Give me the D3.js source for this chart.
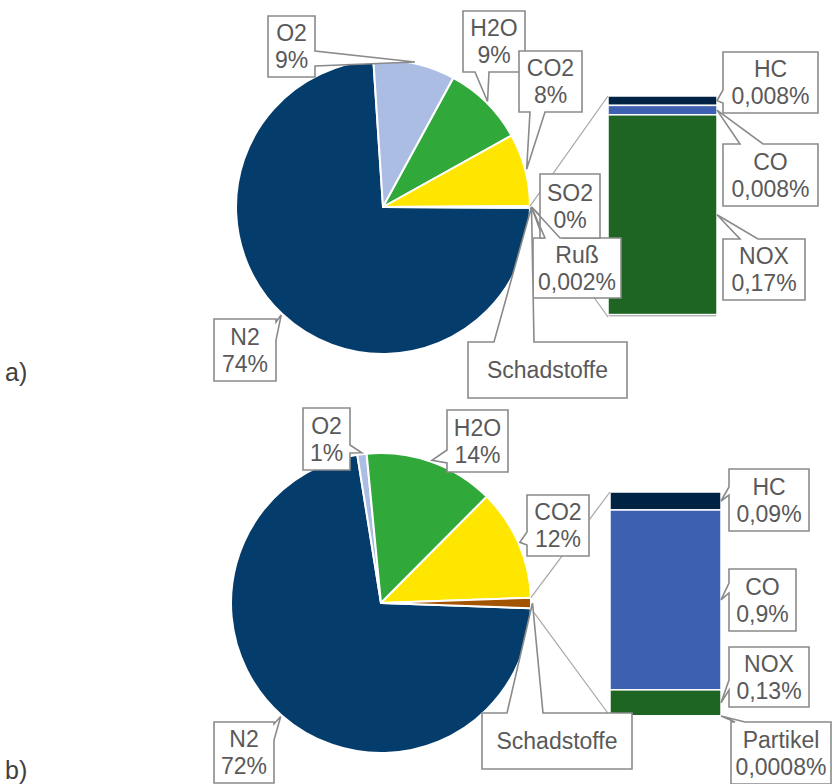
<!DOCTYPE html>
<html>
<head>
<meta charset="utf-8">
<script src="https://cdn.jsdelivr.net/npm/d3@7"></script>
<style>
  html, body { margin: 0; padding: 0; background: #ffffff; }
  svg { display: block; }
  text { font-family: "Liberation Sans", Arial, sans-serif; }
</style>
</head>
<body>
<svg id="chart" width="832" height="784"></svg>
<script>
// ---- data: a) ----
const pieLabelsA = ["N2", "O2", "H2O", "CO2"];
const pieValuesA = [74, 9, 9, 8];
const barLabelsA = ["HC", "CO", "NOX", "Ruß", "SO2"];
const barValuesA = [0.008, 0.008, 0.17, 0.002, 0];

// ---- data: b) ----
const pieLabelsB = ["N2", "O2", "H2O", "CO2"];
const pieValuesB = [72, 1, 14, 12];
const barLabelsB = ["HC", "CO", "NOX", "Partikel"];
const barValuesB = [0.09, 0.9, 0.13, 0.0008];

const otherLabel = "Schadstoffe";
const panelTags = ["a)", "b)"];

// ---- colours ----
const pieColors = { N2: "#043c6b", O2: "#abbde3", H2O: "#30a83a", CO2: "#ffe600", Schadstoffe: "#a35400" };
const barColors = { HC: "#002343", CO: "#3e60b1", NOX: "#1e6423", "Ruß": "#7f7f7f", Partikel: "#7f7f7f", SO2: "#7f7f7f" };

// ---- layout ----
const panels = [
  {
    tag: panelTags[0], tagY: 381,
    pieLabels: pieLabelsA, pieValues: pieValuesA, barLabels: barLabelsA, barValues: barValuesA,
    cx: 383, cy: 207, r: 147,
    bar: { x: 608, w: 109, top: 96, bottom: 317 },
    // callout boxes: [x0, y0, x1, y1], wedge edge, wedge base [from, to]
    pieCallouts: {
      N2:  { box: [214, 319, 276, 381], edge: "right", base: [322, 340] },
      O2:  { box: [268, 16, 315, 77], edge: "right", base: [51, 66] },
      H2O: { box: [463, 11, 525, 72], edge: "bottom", base: [475, 489] },
      CO2: { box: [519, 51, 582, 112], edge: "bottom", base: [530, 545] },
      Schadstoffe: { box: [468, 342, 627, 398], edge: "top", base: [494, 534] }
    },
    barCallouts: {
      HC:  { box: [723, 52, 818, 113], edge: "left", base: [90, 103] },
      CO:  { box: [723, 144, 818, 206], edge: "top", base: [740, 763] },
      NOX: { box: [723, 239, 805, 300], edge: "top", base: [740, 758] },
      SO2: { box: [540, 174, 600, 238], edge: "bottom", base: [545, 560], toPie: true },
      "Ruß": { box: [533, 238, 621, 298], edge: "top", base: [543, 563], toPie: true }
    }
  },
  {
    tag: panelTags[1], tagY: 779,
    pieLabels: pieLabelsB, pieValues: pieValuesB, barLabels: barLabelsB, barValues: barValuesB,
    cx: 381, cy: 603, r: 150,
    bar: { x: 610, w: 111, top: 492, bottom: 716 },
    pieCallouts: {
      N2:  { box: [214, 722, 274, 783], edge: "right", base: [724, 740] },
      O2:  { box: [303, 408, 350, 470], edge: "right", base: [445, 453] },
      H2O: { box: [447, 410, 508, 472], edge: "left", base: [450, 463] },
      CO2: { box: [527, 495, 589, 556], edge: "left", base: [532, 545] },
      Schadstoffe: { box: [482, 713, 632, 769], edge: "top", base: [507, 543] }
    },
    barCallouts: {
      HC:  { box: [729, 469, 809, 531], edge: "left", base: [487, 495] },
      CO:  { box: [729, 569, 796, 631], edge: "left", base: [583, 593] },
      NOX: { box: [729, 647, 809, 707], edge: "left", base: [680, 690] },
      Partikel: { box: [731, 722, 831, 784], edge: "top", base: [735, 745] }
    }
  }
];

const textColor = "#595959";
const boxStroke = "#8a8a8a";
const leaderStroke = "#a6a6a6";
const fontSize = 23;
const tagFontSize = 25;
const lineGap = 26.6;

const svg = d3.select("#chart");

const fmtPct = v => String(v).replace(".", ",") + "%";

// Callout outline: rectangle with a pointer wedge to the tip
function calloutPath(c, tip) {
  const [x0, y0, x1, y1] = c.box;
  const [b0, b1] = c.base;
  const p = d3.path();
  if (c.edge === "right") {
    p.moveTo(x0, y0); p.lineTo(x1, y0); p.lineTo(x1, b0); p.lineTo(tip[0], tip[1]);
    p.lineTo(x1, b1); p.lineTo(x1, y1); p.lineTo(x0, y1);
  } else if (c.edge === "left") {
    p.moveTo(x0, y0); p.lineTo(x1, y0); p.lineTo(x1, y1); p.lineTo(x0, y1);
    p.lineTo(x0, b1); p.lineTo(tip[0], tip[1]); p.lineTo(x0, b0);
  } else if (c.edge === "top") {
    p.moveTo(x0, y0); p.lineTo(b0, y0); p.lineTo(tip[0], tip[1]); p.lineTo(b1, y0);
    p.lineTo(x1, y0); p.lineTo(x1, y1); p.lineTo(x0, y1);
  } else {
    p.moveTo(x0, y0); p.lineTo(x1, y0); p.lineTo(x1, y1); p.lineTo(b1, y1);
    p.lineTo(tip[0], tip[1]); p.lineTo(b0, y1); p.lineTo(x0, y1);
  }
  p.closePath();
  return p.toString();
}

function drawCallout(layer, c, tip, lines) {
  const g = layer.append("g");
  g.append("path")
    .attr("d", calloutPath(c, tip))
    .attr("fill", "#ffffff")
    .attr("stroke", boxStroke)
    .attr("stroke-width", 1.6)
    .attr("stroke-linejoin", "miter");
  const [x0, y0, x1, y1] = c.box;
  const mx = (x0 + x1) / 2, my = (y0 + y1) / 2;
  const capHalf = fontSize * 0.716 / 2;
  const t = g.append("text")
    .attr("text-anchor", "middle")
    .attr("font-size", fontSize)
    .attr("fill", textColor);
  lines.forEach((s, i) => {
    const off = (i - (lines.length - 1) / 2) * lineGap;
    t.append("tspan").attr("x", mx).attr("y", my + off + capHalf).text(s);
  });
}

panels.forEach(P => {
  const g = svg.append("g");
  const otherTotal = d3.sum(P.barValues);
  const pieNames = [...P.pieLabels, otherLabel];
  const pieVals = [...P.pieValues, otherTotal];
  const grand = d3.sum(pieVals);
  const otherAngle = otherTotal / grand * 2 * Math.PI;
  const start = Math.PI / 2 + otherAngle / 2;

  const arcs = d3.pie().sort(null)
    .startAngle(start).endAngle(start + 2 * Math.PI)(pieVals);
  arcs.forEach((a, i) => { a.name = pieNames[i]; });

  const arcGen = d3.arc().innerRadius(0).outerRadius(P.r);
  const pieG = g.append("g").attr("transform", `translate(${P.cx},${P.cy})`);
  pieG.selectAll("path").data(arcs).join("path")
    .attr("d", arcGen)
    .attr("fill", d => pieColors[d.name])
    .attr("stroke", "#ffffff")
    .attr("stroke-width", 2)
    .attr("stroke-linejoin", "round");

  const polar = (ang, rad) => [P.cx + rad * Math.sin(ang), P.cy - rad * Math.cos(ang)];

  // stacked bar for the split-off slice
  const y = d3.scaleLinear().domain([0, otherTotal]).range([P.bar.top, P.bar.bottom]);
  let acc = 0;
  const segs = P.barValues.map((v, i) => {
    const s = { name: P.barLabels[i], v, y0: acc, y1: acc + v };
    acc += v;
    return s;
  });
  g.append("g").selectAll("rect").data(segs.filter(s => s.v > 0)).join("rect")
    .attr("x", P.bar.x)
    .attr("y", d => y(d.y0))
    .attr("width", P.bar.w)
    .attr("height", d => Math.max(0, y(d.y1) - y(d.y0)))
    .attr("fill", d => barColors[d.name])
    .attr("stroke", "#ffffff")
    .attr("stroke-width", 1.5);

  // connector lines from the slice to the bar
  const oth = arcs[arcs.length - 1];
  const pTop = polar(oth.startAngle, P.r);
  const pBot = polar(oth.endAngle, P.r);
  g.append("line").attr("x1", pTop[0]).attr("y1", pTop[1]).attr("x2", P.bar.x).attr("y2", y(0))
    .attr("stroke", leaderStroke).attr("stroke-width", 1.2);
  g.append("line").attr("x1", pBot[0]).attr("y1", pBot[1]).attr("x2", P.bar.x).attr("y2", y(otherTotal))
    .attr("stroke", leaderStroke).attr("stroke-width", 1.2);

  // callouts
  const labels = g.append("g");
  const othTip = polar((oth.startAngle + oth.endAngle) / 2, P.r + 1.5);
  // bar callouts that point to the pie slice go underneath the others
  segs.forEach(s => {
    const c = P.barCallouts[s.name];
    if (!c || !c.toPie) return;
    drawCallout(labels, c, othTip, [s.name, fmtPct(s.v)]);
  });
  arcs.forEach(a => {
    const c = P.pieCallouts[a.name];
    const tip = polar((a.startAngle + a.endAngle) / 2, P.r + 1.5);
    const lines = a.name === otherLabel ? [a.name] : [a.name, fmtPct(a.data)];
    drawCallout(labels, c, tip, lines);
  });
  segs.forEach(s => {
    const c = P.barCallouts[s.name];
    if (!c || c.toPie) return;
    const tip = [P.bar.x + P.bar.w, y((s.y0 + s.y1) / 2)];
    drawCallout(labels, c, tip, [s.name, fmtPct(s.v)]);
  });

  g.append("text")
    .attr("x", 5).attr("y", P.tagY)
    .attr("font-size", tagFontSize)
    .attr("fill", "#404040")
    .text(P.tag);
});
</script>
</body>
</html>
